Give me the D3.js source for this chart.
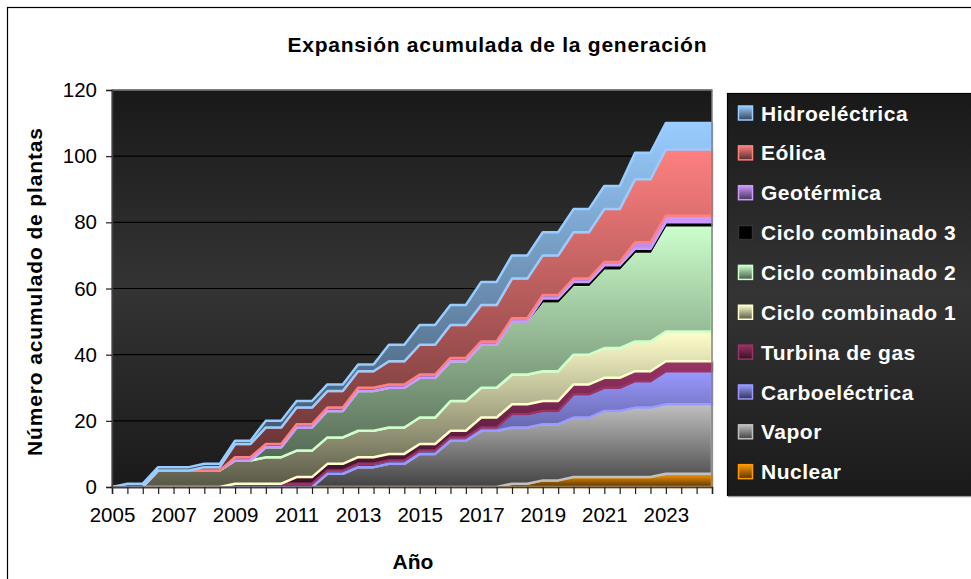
<!DOCTYPE html>
<html>
<head>
<meta charset="utf-8">
<script src="https://cdn.jsdelivr.net/npm/d3@7"></script>
<style>
  body { margin: 0; background: #fff; }
  svg { display: block; font-family: "Liberation Sans", Arial, sans-serif; }
</style>
</head>
<body>
<script>
"use strict";

// categorías: semestres 2005 - 2024
const periodos = [2005, 2005.5, 2006, 2006.5, 2007, 2007.5, 2008, 2008.5, 2009, 2009.5,
                  2010, 2010.5, 2011, 2011.5, 2012, 2012.5, 2013, 2013.5, 2014, 2014.5,
                  2015, 2015.5, 2016, 2016.5, 2017, 2017.5, 2018, 2018.5, 2019, 2019.5,
                  2020, 2020.5, 2021, 2021.5, 2022, 2022.5, 2023, 2023.5, 2024, 2024.5];
const etiquetasAnio = ["2005", "2007", "2009", "2011", "2013", "2015", "2017", "2019", "2021", "2023"];
const ticksY = [0, 20, 40, 60, 80, 100, 120];

// plantas acumuladas por tecnología
const nuclear = [0, 0,0, 0,0,0, 0,0, 0,0, 0,0, 0,0, 0,0, 0,0, 0,0, 0,0, 0,0, 0,0, 1,1, 2,2, 3,3, 3,3, 3,3, 4,4,4,4];
const vapor   = [0, 0,0, 0,0,0, 0,0, 0,0, 0,0, 0,0, 4,4, 6,6, 7,7, 10,10, 14,14, 17,17, 17,17, 17,17, 18,18, 20,20, 21,21, 21,21,21,21];
const carbo   = [0, 0,0, 0,0,0, 0,0, 1,1, 1,1, 1,1, 1,1, 1,1, 1,1, 1,1, 1,1, 1,1, 4,4, 4,4, 7,7, 7,7, 8,8, 10,10,10,10];
const turbina = [0, 0,0, 0,0,0, 0,0, 0,0, 0,0, 2,2, 2,2, 2,2, 2,2, 2,2, 2,2, 3,3, 3,3, 3,3, 3,3, 3,3, 3,3, 3,3,3,3];
const cc1     = [0, 0,0, 5,5,5, 5,5, 7,7, 8,8, 8,8, 8,8, 8,8, 8,8, 8,8, 9,9, 9,9, 9,9, 9,9, 9,9, 9,9, 9,9, 9,9,9,9];
const cc2     = [0, 0,0, 0,0,0, 0,0, 0,0, 3,3, 7,7, 8,8, 12,12, 12,12, 12,12, 12,12, 13,13, 16,16, 21,21, 21,21, 24,24, 27,27, 32,32,32,32];
const cc3     = [0, 0,0, 0,0,0, 0,0, 0,0, 0,0, 0,0, 0,0, 0,0, 0,0, 0,0, 0,0, 0,0, 0,0, 1,1, 1,1, 1,1, 1,1, 1,1,1,1];
const geo     = [0, 0,0, 0,0,0, 0,0, 1,1, 1,1, 1,1, 1,1, 1,1, 1,1, 1,1, 1,1, 1,1, 1,1, 1,1, 1,1, 1,1, 2,2, 2,2,2,2];
const eolica  = [0, 0,0, 0,0,0, 1,1, 4,4, 5,5, 5,5, 5,5, 5,5, 7,7, 9,9, 10,10, 11,11, 12,12, 12,12, 14,14, 16,16, 19,19, 20,20,20,20];
const hidro   = [0, 1,1, 1,1,1, 1,1, 1,1, 2,2, 2,2, 2,2, 2,2, 5,5, 6,6, 6,6, 7,7, 7,7, 7,7, 7,7, 7,7, 8,8, 8,8,8,8];

// orden de apilado (de abajo hacia arriba)
const nombres = ["Nuclear", "Vapor", "Carboeléctrica", "Turbina de gas", "Ciclo combinado 1",
                 "Ciclo combinado 2", "Ciclo combinado 3", "Geotérmica", "Eólica", "Hidroeléctrica"];
const valores = [nuclear, vapor, carbo, turbina, cc1, cc2, cc3, geo, eolica, hidro];
const colores = ["#ff9900", "#c0c0c0", "#9999ff", "#993366", "#ffffcc",
                 "#ccffcc", "#000000", "#cc99ff", "#ff8080", "#99ccff"];

const svgSize = { width: 971, height: 579 };
const plot = { left: 112, right: 712, top: 90, bottom: 487 };

const svg = d3.select("body").append("svg")
    .attr("width", svgSize.width)
    .attr("height", svgSize.height);

const defs = svg.append("defs");

// fondo oscuro del área de trazado y de la leyenda
function fondo(id) {
    const g = defs.append("linearGradient").attr("id", id)
        .attr("x1", 0).attr("y1", 0).attr("x2", 0).attr("y2", 1);
    g.append("stop").attr("offset", "0%").attr("stop-color", "#191919");
    g.append("stop").attr("offset", "50%").attr("stop-color", "#343434");
    g.append("stop").attr("offset", "100%").attr("stop-color", "#1a1a1a");
}
fondo("fondoPlot");
fondo("fondoLeyenda");

colores.forEach((c, i) => {
    const g = defs.append("linearGradient").attr("id", "grad" + i)
        .attr("x1", 0).attr("y1", 0).attr("x2", 0).attr("y2", 1);
    g.append("stop").attr("offset", "0%").attr("stop-color", c);
    g.append("stop").attr("offset", "100%").attr("stop-color", d3.color(c).darker(3));
});

// marco exterior del gráfico
svg.append("rect")
    .attr("x", 7.5).attr("y", 7.5)
    .attr("width", 1100).attr("height", 1100)
    .attr("fill", "#fff").attr("stroke", "#000").attr("stroke-width", 1.2);

svg.append("text")
    .attr("x", 497).attr("y", 52)
    .attr("text-anchor", "middle")
    .attr("font-size", 21).attr("font-weight", "bold")
    .attr("textLength", 419).attr("lengthAdjust", "spacing")
    .text("Expansión acumulada de la generación");

const x = d3.scalePoint()
    .domain(periodos)
    .range([plot.left, plot.right]);

const y = d3.scaleLinear()
    .domain([0, 120])
    .range([plot.bottom, plot.top]);

svg.append("rect")
    .attr("x", plot.left).attr("y", plot.top)
    .attr("width", plot.right - plot.left).attr("height", plot.bottom - plot.top)
    .attr("fill", "url(#fondoPlot)");

svg.append("g")
    .selectAll("line")
    .data(ticksY.filter(d => d > 0))
    .enter()
    .append("line")
        .attr("x1", plot.left).attr("x2", plot.right)
        .attr("y1", d => y(d)).attr("y2", d => y(d))
        .attr("stroke", "#000").attr("stroke-width", 1.2);

const filas = periodos.map((p, i) => {
    const fila = { periodo: p };
    nombres.forEach((n, k) => { fila[n] = valores[k][i]; });
    return fila;
});

const apilado = d3.stack().keys(nombres)(filas);

const area = d3.area()
    .x(d => x(d.data.periodo))
    .y0(d => y(d[0]))
    .y1(d => y(d[1]));

svg.append("g")
    .selectAll("path")
    .data(apilado)
    .enter()
    .append("path")
        .attr("d", area)
        .attr("fill", (d, i) => "url(#grad" + i + ")")
        .attr("stroke", (d, i) => colores[i])
        .attr("stroke-width", (d, i) => i === 6 ? 1.5 : 2.5)
        .attr("stroke-linejoin", "round");

// borde del área de trazado
svg.append("rect")
    .attr("x", plot.left).attr("y", plot.top)
    .attr("width", plot.right - plot.left).attr("height", plot.bottom - plot.top)
    .attr("fill", "none").attr("stroke", "#808080").attr("stroke-width", 1.5);

const ejeX = svg.append("g")
    .attr("transform", `translate(0,${plot.bottom})`)
    .call(d3.axisBottom(x)
        .tickValues(periodos)
        .tickSize(7)
        .tickPadding(13)
        .tickFormat(d => etiquetasAnio.includes(String(d)) ? String(d) : ""));

const ejeY = svg.append("g")
    .attr("transform", `translate(${plot.left},0)`)
    .call(d3.axisLeft(y)
        .tickValues(ticksY)
        .tickSize(6)
        .tickPadding(9));

[ejeX, ejeY].forEach(eje => {
    eje.select(".domain").attr("stroke", "#404040").attr("stroke-width", 1.5);
    eje.selectAll(".tick line").attr("stroke", "#202020").attr("stroke-width", 1.2);
    eje.selectAll(".tick text")
        .attr("font-size", 20.5)
        .attr("font-family", "'Liberation Sans', Arial, sans-serif")
        .attr("fill", "#000");
});

svg.append("text")
    .attr("transform", "translate(42,292) rotate(-90)")
    .attr("text-anchor", "middle")
    .attr("font-size", 21).attr("font-weight", "bold")
    .attr("textLength", 328).attr("lengthAdjust", "spacing")
    .text("Número acumulado de plantas");

svg.append("text")
    .attr("x", 413).attr("y", 569)
    .attr("text-anchor", "middle")
    .attr("font-size", 21).attr("font-weight", "bold")
    .text("Año");

// leyenda
const leyenda = svg.append("g");
leyenda.append("rect")
    .attr("x", 727.5).attr("y", 93.5)
    .attr("width", 300).attr("height", 402)
    .attr("fill", "url(#fondoLeyenda)")
    .attr("stroke", "#000").attr("stroke-width", 1.2);
leyenda.append("line")
    .attr("x1", 728).attr("x2", 975)
    .attr("y1", 496.5).attr("y2", 496.5)
    .attr("stroke", "#9a9a9a").attr("stroke-width", 1.5);

const itemsLeyenda = d3.range(nombres.length).reverse();
const item = leyenda.selectAll(".item")
    .data(itemsLeyenda)
    .enter()
    .append("g")
        .attr("class", "item")
        .attr("transform", (k, j) => `translate(738,${113 + j * 39.85})`);

item.append("rect")
    .attr("x", 0.5).attr("y", -7)
    .attr("width", 14).attr("height", 14)
    .attr("fill", k => "url(#grad" + k + ")")
    .attr("stroke", k => k === 6 ? "#333" : colores[k])
    .attr("stroke-width", 1.5);

item.append("text")
    .attr("x", 23).attr("y", 0)
    .attr("dy", "0.36em")
    .attr("font-size", 21).attr("font-weight", "bold")
    .attr("letter-spacing", 0.5)
    .attr("fill", "#fff")
    .text(k => nombres[k]);
</script>
</body>
</html>
